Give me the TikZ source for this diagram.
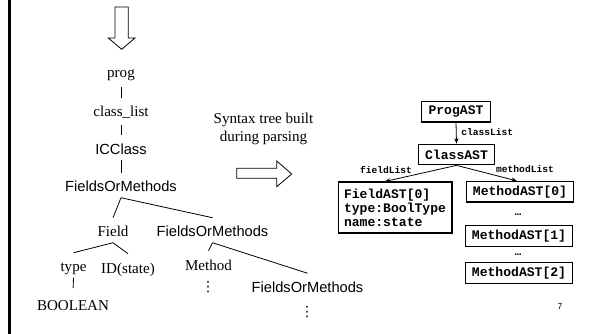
\documentclass[tikz,border=0pt]{standalone}
\usepackage{fontspec}
\setmainfont{Liberation Serif}
\newfontfamily\sansf{Liberation Sans}
\newfontfamily\monof{Liberation Mono}
\newfontfamily\dejaf{DejaVu Sans}
\usetikzlibrary{arrows.meta,calc}
\begin{document}
\begin{tikzpicture}[x=0.75pt,y=-0.75pt,
 tn/.style={inner xsep=1pt, inner ysep=4.1pt, text height=10.15pt, text depth=0pt, anchor=base, font=\fontsize{11.3}{13.5}\selectfont},
 ts/.style={tn, font=\sansf\fontsize{11}{13}\selectfont},
 edge/.style={line width=0.6pt},
 ast/.style={draw, line width=0.8pt, font=\monof\bfseries\fontsize{9.8}{10.5}\selectfont, inner xsep=5pt, inner ysep=0pt, minimum height=15.5pt},
 lbl/.style={font=\monof\bfseries\fontsize{7.2}{8}\selectfont, inner sep=0pt},
 ptr/.style={line width=0.6pt, -{Stealth[length=4pt,width=3.2pt]}},
 hollow/.style={draw, line width=0.6pt, fill=white},
 dts/.style={inner sep=0pt, font=\dejaf\fontsize{10.5}{12}\selectfont},
 ell/.style={inner sep=0pt, font=\monof\bfseries\fontsize{8}{9}\selectfont},
]
\useasboundingbox (0,0) rectangle (591,334);
% left bar
\draw[line width=2.25pt] (9,0) -- (9,334);
% hollow arrows
\draw[hollow] (115,7) -- (128.3,7) -- (128.3,38) -- (135,38) -- (121.7,49.3) -- (108.3,38) -- (115,38) -- cycle;
\draw[hollow] (236.7,168.3) -- (276.7,168.3) -- (276.7,161) -- (291.7,174) -- (276.7,186.7) -- (276.7,178.3) -- (236.7,178.3) -- cycle;
% parse tree
\node[tn] (prog) at (121,78) {prog};
\node[tn] (cl) at (121,117) {class\_list};
\node[ts] (icc) at (121,154.5) {ICClass};
\node[ts] (fom1) at (121,192) {FieldsOrMethods};
\node[tn] (field) at (113,237) {Field};
\node[ts] (fom2) at (212.5,237) {FieldsOrMethods};
\node[tn] (type) at (73.5,272) {type};
\node[tn] (id) at (128,273) {ID(state)};
\node[tn] (bool) at (73,310) {BOOLEAN};
\node[tn] (method) at (208.5,270) {Method};
\node[ts] (fom3) at (307.5,292.5) {FieldsOrMethods};
\node[dts] (vd1) at (208,287.5) {⋮};
\node[dts] (vd2) at (307,312.5) {⋮};
\draw[edge, shorten <=2.5pt] (prog.south) -- (cl.north);
\draw[edge, shorten <=2pt] (cl.south) -- (icc.north);
\draw[edge] (icc.south) -- (fom1.north);
\draw[edge] (fom1.south) -- (field.north);
\draw[edge] (fom1.south) -- (fom2.north);
\draw[edge] (field.south) -- (type.north);
\draw[edge] (field.south) -- (id.north);
\draw[edge, shorten >=2pt] (type.south) -- (bool.north);
\draw[edge] (fom2.south) -- (method.north);
\draw[edge] (fom2.south) -- (fom3.north);
% caption
\node[align=center, font=\fontsize{11.3}{13.5}\selectfont, inner sep=0pt] (cap) at (263.5,129) {Syntax tree built\\during parsing};
% AST
\node[ast] (pa) at (456,111.7) {ProgAST};
\node[ast] (ca) at (456.5,154.5) {ClassAST};
\node[ast, align=left, minimum height=38.25pt, inner xsep=4.5pt] (fa) at (395,207.5) {FieldAST[0]\\type:BoolType\\name:state};
\node[ast] (m0) at (520,191.7) {MethodAST[0]};
\node[ast] (m1) at (519,235.8) {MethodAST[1]};
\node[ast] (m2) at (519,273) {MethodAST[2]};
\node[ell] (e1) at (518,215) {…};
\node[ell] (e2) at (518,255) {…};
\draw[ptr] (pa.south) -- (ca.north);
\draw[ptr] (ca.south) -- ([xshift=-7.5pt]fa.north);
\draw[ptr] (ca.south) -- ([xshift=-2.5pt]m0.north);
\node[lbl, anchor=west] (lcl) at (461,132.5) {classList};
\node[lbl] (lfl) at (386,170.5) {fieldList};
\node[lbl] (lml) at (525,169) {methodList};
\node[font=\sansf\fontsize{6.5}{7}\selectfont, inner sep=0pt] (pg) at (560,307) {7};
\end{tikzpicture}
\end{document}
